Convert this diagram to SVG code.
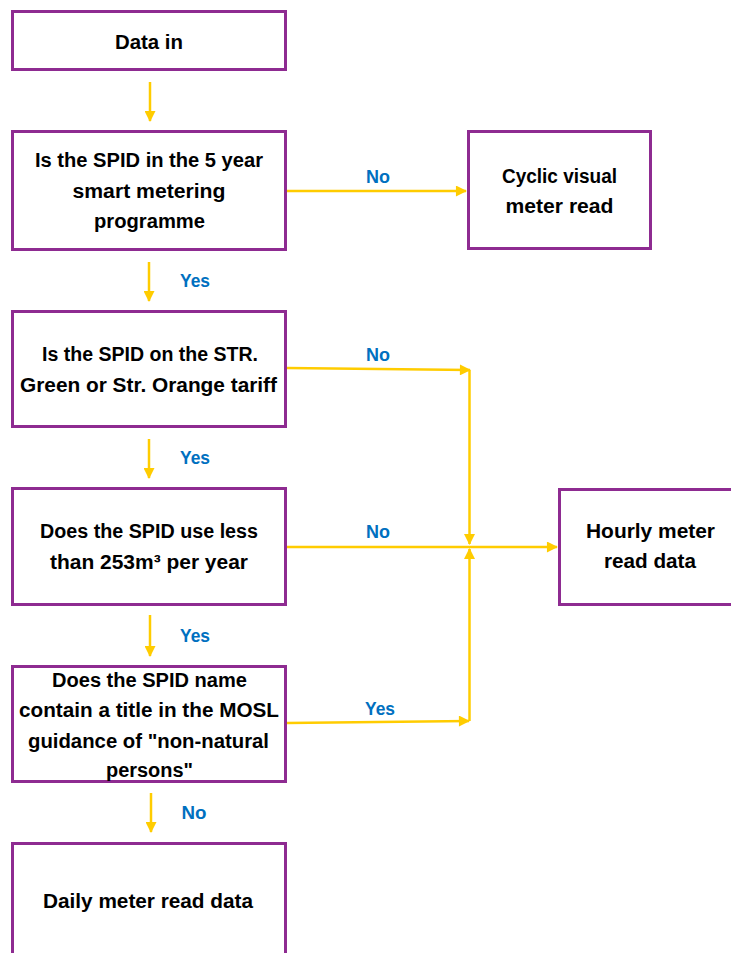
<svg xmlns="http://www.w3.org/2000/svg" width="731" height="953" viewBox="0 0 731 953">
<defs>
<style>
.box{fill:#ffffff;stroke:#8E2B91;stroke-width:3}
.t{font-family:"Liberation Sans",Arial,sans-serif;font-weight:bold;font-size:20px;fill:#000000;text-anchor:middle}
.lbl{font-family:"Liberation Sans",Arial,sans-serif;font-weight:bold;font-size:17.5px;fill:#0070C0;text-anchor:middle}
.c{fill:none;stroke:#FFCC00;stroke-width:2.5}
</style>
<marker id="ah" viewBox="0 0 12 12" refX="11" refY="6" markerWidth="12" markerHeight="11" markerUnits="userSpaceOnUse" orient="auto">
<path d="M0,0 L12,6 L0,12 z" fill="#FFCC00"/>
</marker>
</defs>
<rect width="731" height="953" fill="#ffffff"/>
<g id="connectors">
<path class="c" d="M150,82 L150,121" marker-end="url(#ah)"/>
<path class="c" d="M287,191 L466,191" marker-end="url(#ah)"/>
<path class="c" d="M149,262 L149,301" marker-end="url(#ah)"/>
<path class="c" d="M287,368 L470,370" marker-end="url(#ah)"/>
<path class="c" d="M469.5,370 L469.5,544" marker-end="url(#ah)"/>
<path class="c" d="M149,439 L149,478" marker-end="url(#ah)"/>
<path class="c" d="M287,547 L557,547" marker-end="url(#ah)"/>
<path class="c" d="M150,615 L150,656" marker-end="url(#ah)"/>
<path class="c" d="M287,723 L469,721" marker-end="url(#ah)"/>
<path class="c" d="M469.5,721 L469.5,549" marker-end="url(#ah)"/>
<path class="c" d="M151,793 L151,832" marker-end="url(#ah)"/>
<text class="lbl" x="378" y="183" textLength="24" lengthAdjust="spacingAndGlyphs">No</text>
<text class="lbl" x="195" y="287" textLength="30" lengthAdjust="spacingAndGlyphs">Yes</text>
<text class="lbl" x="378" y="361" textLength="24" lengthAdjust="spacingAndGlyphs">No</text>
<text class="lbl" x="195" y="464" textLength="30" lengthAdjust="spacingAndGlyphs">Yes</text>
<text class="lbl" x="378" y="538" textLength="24" lengthAdjust="spacingAndGlyphs">No</text>
<text class="lbl" x="195" y="642" textLength="30" lengthAdjust="spacingAndGlyphs">Yes</text>
<text class="lbl" x="380" y="715" textLength="30" lengthAdjust="spacingAndGlyphs">Yes</text>
<text class="lbl" x="194" y="819" textLength="25" lengthAdjust="spacingAndGlyphs">No</text>
</g>
<g id="data-in">
<rect class="box" x="12.5" y="11.5" width="273" height="58"/>
<text class="t" x="149" y="48.5" textLength="68" lengthAdjust="spacingAndGlyphs">Data in</text>
</g>
<g id="smart-programme">
<rect class="box" x="12.5" y="131.5" width="273" height="118"/>
<text class="t" x="149" y="167" textLength="228" lengthAdjust="spacingAndGlyphs">Is the SPID in the 5 year</text>
<text class="t" x="149" y="197.5" textLength="153" lengthAdjust="spacingAndGlyphs">smart metering</text>
<text class="t" x="149.5" y="228" textLength="111" lengthAdjust="spacingAndGlyphs">programme</text>
</g>
<g id="cyclic">
<rect class="box" x="468.5" y="131.5" width="182" height="117"/>
<text class="t" x="559.5" y="183" textLength="115" lengthAdjust="spacingAndGlyphs">Cyclic visual</text>
<text class="t" x="559.5" y="213" textLength="108" lengthAdjust="spacingAndGlyphs">meter read</text>
</g>
<g id="tariff">
<rect class="box" x="12.5" y="311.5" width="273" height="115"/>
<text class="t" x="150" y="361" textLength="216" lengthAdjust="spacingAndGlyphs">Is the SPID on the STR.</text>
<text class="t" x="148.5" y="392" textLength="257" lengthAdjust="spacingAndGlyphs">Green or Str. Orange tariff</text>
</g>
<g id="usage">
<rect class="box" x="12.5" y="488.5" width="273" height="116"/>
<text class="t" x="149" y="538" textLength="218" lengthAdjust="spacingAndGlyphs">Does the SPID use less</text>
<text class="t" x="149" y="569" textLength="198" lengthAdjust="spacingAndGlyphs">than 253m³ per year</text>
</g>
<g id="hourly">
<rect class="box" x="559.5" y="489.5" width="200" height="115"/>
<text class="t" x="650.5" y="538" textLength="129" lengthAdjust="spacingAndGlyphs">Hourly meter</text>
<text class="t" x="650" y="568" textLength="92" lengthAdjust="spacingAndGlyphs">read data</text>
</g>
<g id="name-title">
<rect class="box" x="12.5" y="666.5" width="273" height="115"/>
<text class="t" x="149.5" y="687" textLength="195" lengthAdjust="spacingAndGlyphs">Does the SPID name</text>
<text class="t" x="149" y="717" textLength="260" lengthAdjust="spacingAndGlyphs">contain a title in the MOSL</text>
<text class="t" x="148.5" y="748" textLength="241" lengthAdjust="spacingAndGlyphs">guidance of "non-natural</text>
<text class="t" x="149.5" y="777" textLength="87" lengthAdjust="spacingAndGlyphs">persons"</text>
</g>
<g id="daily">
<rect class="box" x="12.5" y="843.5" width="273" height="130"/>
<text class="t" x="148" y="908" textLength="210" lengthAdjust="spacingAndGlyphs">Daily meter read data</text>
</g>
</svg>
